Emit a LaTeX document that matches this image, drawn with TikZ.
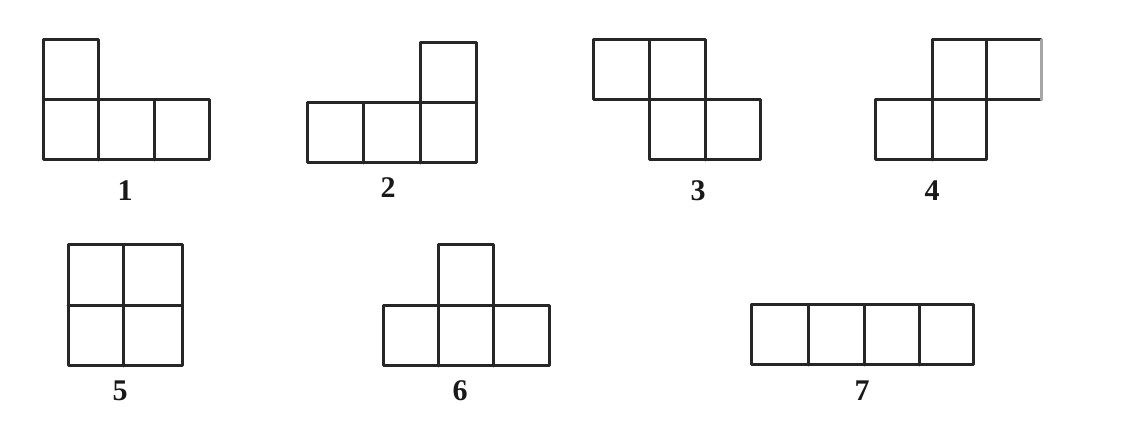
\documentclass[tikz,border=0pt]{standalone}
\usepackage{fontspec}
\setmainfont{Liberation Serif}
\begin{document}
\begin{tikzpicture}[x=1pt,y=-1pt,
  cell/.style={draw=black!85,line width=3pt,line join=round,line cap=round},
  lbl/.style={font=\fontsize{30}{32}\selectfont\bfseries,inner sep=0pt,text=black!90}]
\useasboundingbox (0,0) rectangle (1133,427);
% shape 1
\draw[cell] (43,100) rectangle (98,40);
\draw[cell] (43,160) rectangle (209,100);
\draw[cell] (98,100) -- (98,160) (154,100) -- (154,160);
\node[lbl] (l1) at (125,191) {1};
% shape 2
\draw[cell] (420,103) rectangle (476,43);
\draw[cell] (307,163) rectangle (476,103);
\draw[cell] (363,103) -- (363,163) (420,103) -- (420,163);
\node[lbl] (l2) at (388,188) {2};
% shape 3
\draw[cell] (593,100) rectangle (705,40);
\draw[cell] (649,40) -- (649,100);
\draw[cell] (649,160) rectangle (760,100);
\draw[cell] (705,100) -- (705,160);
\node[lbl] (l3) at (698,191) {3};
% shape 4
\draw[cell] (1041,40) -- (932,40) -- (932,100) (932,100) -- (1041,100);
\draw[cell,draw=black!35] (1041,40) -- (1041,100);
\draw[cell] (986,40) -- (986,100);
\draw[cell] (875,160) rectangle (986,100);
\draw[cell] (932,100) -- (932,160);
\node[lbl] (l4) at (932,191) {4};
% shape 5
\draw[cell] (68,366) rectangle (182,245);
\draw[cell] (123,245) -- (123,366) (68,306) -- (182,306);
\node[lbl] (l5) at (120,391) {5};
% shape 6
\draw[cell] (438,306) rectangle (493,245);
\draw[cell] (383,366) rectangle (549,306);
\draw[cell] (438,306) -- (438,366) (493,306) -- (493,366);
\node[lbl] (l6) at (460,391) {6};
% shape 7
\draw[cell] (751,365) rectangle (973,305);
\draw[cell] (808,305) -- (808,365) (864,305) -- (864,365) (919,305) -- (919,365);
\node[lbl] (l7) at (862,391) {7};
\end{tikzpicture}
\end{document}
